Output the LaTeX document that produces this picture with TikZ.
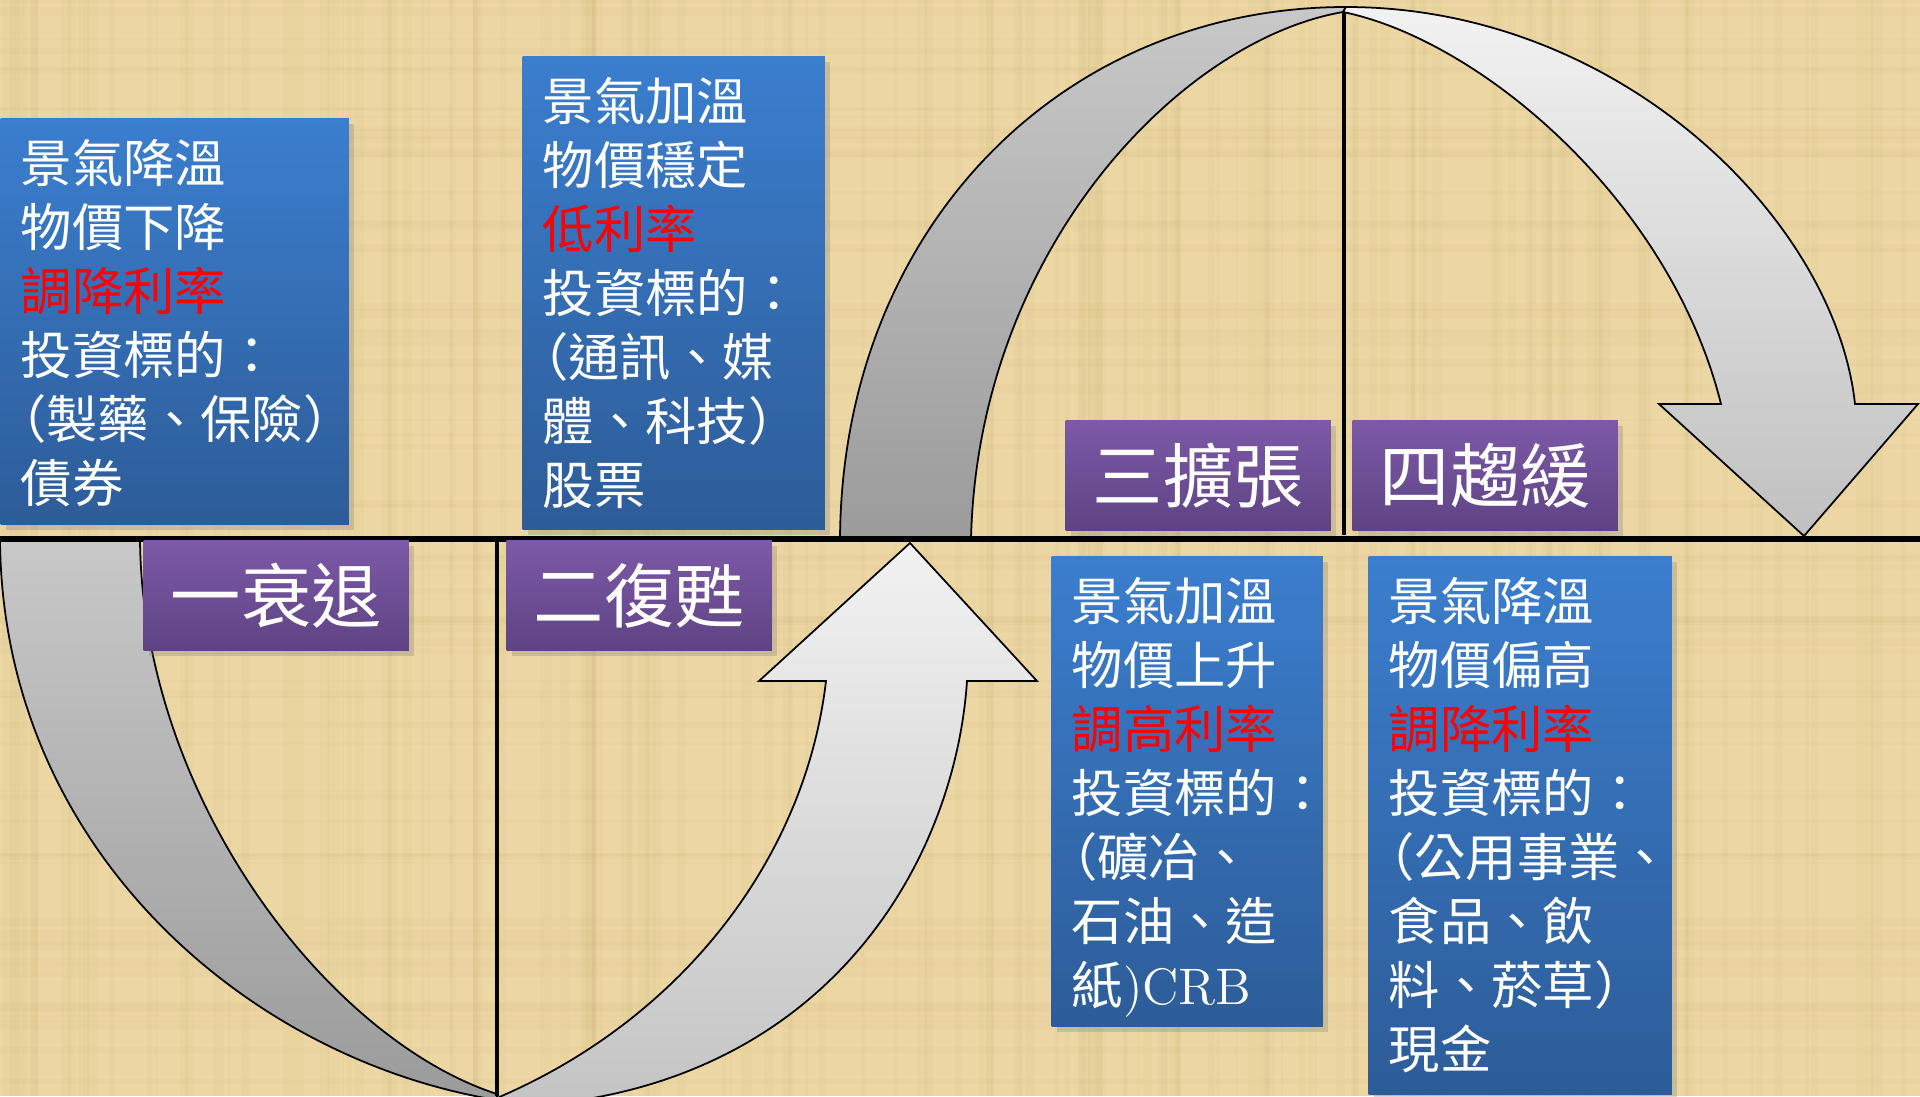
\documentclass[tikz,border=0pt]{standalone}
\usepackage{fontspec}
\newfontfamily\cjk{Noto Sans CJK TC}
\usepackage{tikz}
\usetikzlibrary{shadows}
\definecolor{paper}{RGB}{236,214,163}
\definecolor{fibre}{RGB}{190,160,100}
\definecolor{infotop}{RGB}{59,126,206}
\definecolor{infobot}{RGB}{45,92,152}
\definecolor{phasetop}{RGB}{125,89,168}
\definecolor{phasebot}{RGB}{94,67,131}
\definecolor{rate}{RGB}{255,0,0}
\definecolor{darktop}{RGB}{200,200,200}
\definecolor{darkbot}{RGB}{155,155,155}
\definecolor{lighttop}{RGB}{242,242,242}
\definecolor{lightbot}{RGB}{192,192,192}
\tikzset{
  phase/.style={anchor=north west, minimum width=2.65cm, minimum height=1.10cm, inner sep=0pt,
    top color=phasetop, bottom color=phasebot, text=white, font=\cjk\fontsize{20pt}{24pt}\selectfont,
    drop shadow={shadow xshift=.05cm, shadow yshift=-.05cm, opacity=.3}},
  info/.style={anchor=north west, inner xsep=.2cm, inner ysep=.21cm,
    top color=infotop, bottom color=infobot, text=white, font=\cjk\fontsize{14.6pt}{18.2pt}\selectfont,
    drop shadow={shadow xshift=.05cm, shadow yshift=-.05cm, opacity=.3}},
  band/.style={draw=black, line width=.5pt},
}
\newcommand{\infotext}[3]{\parbox[c][#1][t]{#2}{\raggedright #3}}
\newcommand{\lp}{\hspace*{-.5em}（}

\begin{document}
\begin{tikzpicture}[x=.01cm, y=-.01cm]
\useasboundingbox (0,0) rectangle (1920,1096);
\clip (0,0) rectangle (1920,1096);
\fill[paper] (0,0) rectangle (1920,1096);
\pgfmathsetseed{11}
\foreach \i in {1,...,160} {
  \pgfmathsetmacro\fx{rnd*1920}
  \pgfmathsetmacro\fw{2+rnd*10}
  \fill[fibre, opacity=.05] (\fx,0) rectangle ++(\fw,1096);
}
\foreach \i in {1,...,70} {
  \pgfmathsetmacro\fy{rnd*1096}
  \pgfmathsetmacro\fh{2+rnd*8}
  \fill[fibre, opacity=.04] (0,\fy) rectangle ++(1920,\fh);
}
\draw[band, top color=darktop, bottom color=darkbot] (0,539) .. controls (2,850) and (250,1060) .. (497,1100)
  -- (497,1094) .. controls (330,1040) and (142,800) .. (140,539) -- cycle;
\draw[band, top color=lighttop, bottom color=lightbot] (826,681) -- (759,681) -- (910,543) -- (1037,681) -- (967,681)
  .. controls (955,860) and (830,1080) .. (540,1105) -- (520,1150) -- (497,1150) -- (497,1098)
  .. controls (680,1020) and (805,860) .. (826,681) -- cycle;
\draw[band, top color=darktop, bottom color=darkbot] (840,539) .. controls (842,230) and (1060,7) .. (1346,7)
  -- (1343,12) .. controls (1180,40) and (978,250) .. (971,539) -- cycle;
\draw[band, top color=lighttop, bottom color=lightbot] (1346,7) .. controls (1620,7) and (1835,220) .. (1855,404)
  -- (1918,404) -- (1804,536) -- (1659,404) -- (1721,404) .. controls (1670,200) and (1480,40) .. (1343,12) -- cycle;
\coordinate (axisL) at (0,539);
\coordinate (axisR) at (1920,539);
\coordinate (troughTop) at (497,536);
\coordinate (troughBot) at (497,1096);
\coordinate (peakTop) at (1344,12);
\coordinate (peakBot) at (1344,535);
\draw[line width=.065cm] (axisL) -- (axisR);
\draw[line width=.045cm] (troughTop) -- (troughBot);
\draw[line width=.045cm] (peakTop) -- (peakBot);
\foreach \name/\x/\y/\txt in {recess/143/540/一衰退, recover/506/540/二復甦, expand/1065/420/三擴張, slow/1352/420/四趨緩}
  \node[phase] (\name) at (\x,\y) {\txt};
\node[info] (recessInfo) at (0,118) {\infotext{3.64cm}{3.08cm}{景氣降溫\\物價下降\\\textcolor{rate}{調降利率}\\投資標的：\\\lp 製藥、保險）\\債券}};
\node[info] (recoverInfo) at (522,56) {\infotext{4.31cm}{2.62cm}{景氣加溫\\物價穩定\\\textcolor{rate}{低利率}\\投資標的：\\\lp 通訊、媒\\體、科技）\\股票}};
\node[info] (expandInfo) at (1051,556) {\infotext{4.28cm}{2.31cm}{景氣加溫\\物價上升\\\textcolor{rate}{調高利率}\\投資標的：\\\lp 礦冶、\\石油、造\\紙{\rmfamily )CRB}}};
\node[info] (slowInfo) at (1368,556) {\infotext{4.95cm}{2.63cm}{景氣降溫\\物價偏高\\\textcolor{rate}{調降利率}\\投資標的：\\\lp 公用事業、\\食品、飲\\料、菸草）\\現金}};
\end{tikzpicture}
\end{document}
